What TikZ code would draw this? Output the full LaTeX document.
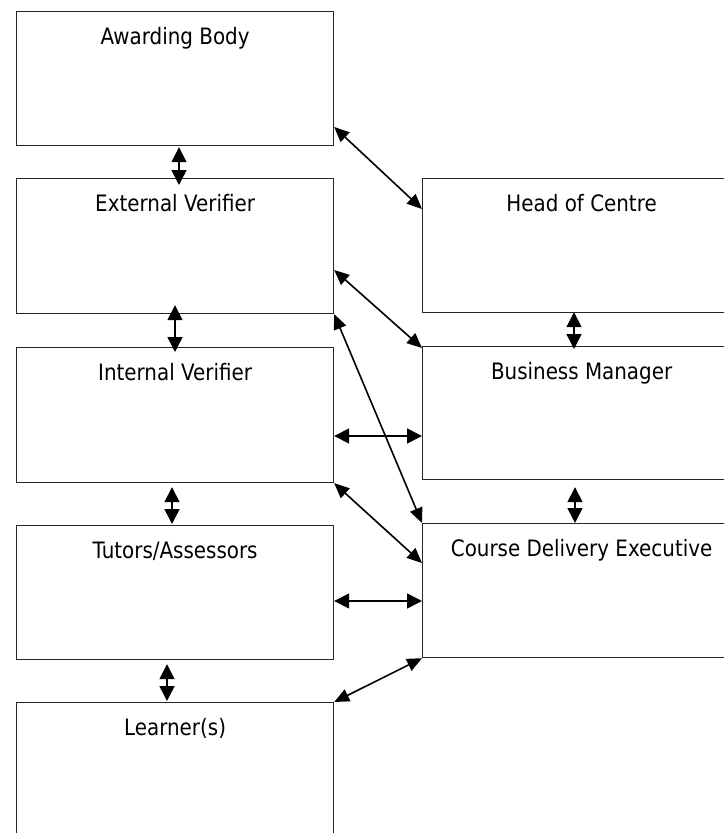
\documentclass[tikz,border=0pt]{standalone}
\usepackage{fontspec}
\setmainfont{DejaVu Sans}[FakeStretch=0.88]
\usetikzlibrary{arrows.meta,calc}
\begin{document}
\begin{tikzpicture}[x=1pt,y=-1pt,
  box/.style={draw=black!85,line width=1.2pt,fill=white,rectangle,inner sep=0pt,anchor=north west},
  lbl/.style={anchor=base,inner sep=0pt,font=\fontsize{22.6}{26}\selectfont},
  conn/.style={line width=1.6pt,{Triangle[length=15pt,width=15pt]}-{Triangle[length=15pt,width=15pt]}},
  diag/.style={line width=1.6pt,{Triangle[length=15pt,width=13pt]}-{Triangle[length=15pt,width=13pt]}}]
\path[use as bounding box] (0,0) rectangle (724,833);
\clip (0,0) rectangle (724,833);
% left column
\node[box,minimum width=317pt,minimum height=134pt] (AB) at (16,11) {};
\node[box,minimum width=317pt,minimum height=135pt] (EV) at (16,178) {};
\node[box,minimum width=317pt,minimum height=135pt] (IV) at (16,347) {};
\node[box,minimum width=317pt,minimum height=134pt] (TA) at (16,525) {};
\node[box,minimum width=317pt,minimum height=170pt] (LR) at (16,702) {};
% right column
\node[box,minimum width=318pt,minimum height=134pt] (HC) at (422,178) {};
\node[box,minimum width=318pt,minimum height=133pt] (BM) at (422,346) {};
\node[box,minimum width=318pt,minimum height=134pt] (CD) at (422,523) {};
% labels
\node[lbl] (ABt) at ($(AB.north)+(0,33)$) {Awarding Body};
\node[lbl] (EVt) at ($(EV.north)+(0,33)$) {External Verifier};
\node[lbl] (IVt) at ($(IV.north)+(0,33)$) {Internal Verifier};
\node[lbl] (TAt) at ($(TA.north)+(0,33)$) {Tutors/Assessors};
\node[lbl] (LRt) at ($(LR.north)+(0,33)$) {Learner(s)};
\node[lbl] (HCt) at ($(HC.north)+(0,33)$) {Head of Centre};
\node[lbl] (BMt) at ($(BM.north)+(0,33)$) {Business Manager};
\node[lbl] (CDt) at ($(CD.north)+(0,33)$) {Course Delivery Executive};
% vertical connectors
\draw[conn] ($(AB.south -| 179,0)+(0,1)$) -- ($(EV.north -| 179,0)+(0,7)$);
\draw[conn] ($(EV.south -| 175,0)+(0,-9)$) -- ($(IV.north -| 175,0)+(0,5)$);
\draw[conn] ($(IV.south -| 172,0)+(0,4)$) -- ($(TA.north -| 172,0)+(0,-1)$);
\draw[conn] ($(TA.south -| 167,0)+(0,4)$) -- ($(LR.north -| 167,0)+(0,-1)$);
\draw[conn] ($(HC.south -| 574,0)+(0,-1)$) -- ($(BM.north -| 574,0)+(0,3)$);
\draw[conn] ($(BM.south -| 575,0)+(0,7)$) -- (CD.north -| 575,0);
% horizontal connectors
\draw[conn] (IV.east |- 0,436) -- (BM.west |- 0,436);
\draw[conn] (TA.east |- 0,601) -- (CD.west |- 0,601);
% diagonal connectors
\draw[diag] (AB.east |- 0,127) -- (HC.west |- 0,209);
\draw[diag] (EV.east |- 0,270) -- (BM.west |- 0,348);
\draw[diag] (EV.south east) -- (CD.north west);
\draw[diag] (IV.south east) -- (CD.west |- 0,563);
\draw[diag] (CD.south west) -- (LR.north east);
\end{tikzpicture}
\end{document}
